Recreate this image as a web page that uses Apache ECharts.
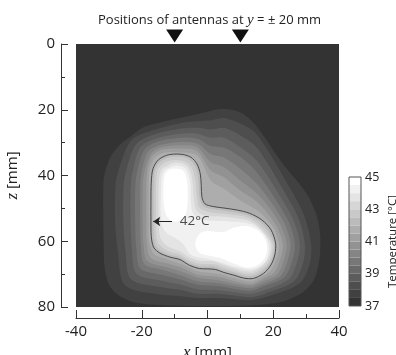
<!DOCTYPE html>
<html><head><meta charset="utf-8">
<script src="https://cdn.jsdelivr.net/npm/echarts@6/dist/echarts.min.js"></script>
<style>html,body{margin:0;padding:0;background:#fff}#c{width:396px;height:355px}</style>
</head><body><div id="c"></div>
<script>
// ---- data ----
const xTicks = [-40, -20, 0, 20, 40];
const zTicks = [0, 20, 40, 60, 80];
const tempTicks = [37, 39, 41, 43, 45];
const antennaX = [-10, 10];
const bandLower = [37, 37.5, 38, 38.5, 39, 39.5, 40, 40.5, 41, 41.5, 42, 42.5, 43, 43.5, 44, 44.5];
const isoLevels = [37.5, 38, 38.5, 39, 39.5, 40, 40.5, 41, 41.5, 42, 42.5, 43, 43.5, 44, 44.5, 44.5];
// isotherms as [x mm, z mm]
const iso37_5 = [[-15.3,24.1],[-10,22.8],[-5.2,21.8],[0,20.6],[4,19.8],[7.5,20],[11,21.4],[14.5,24.5],[17.8,29],[21,33.8],[24.5,38.5],[28.2,42.8],[31,47],[33.3,52.5],[34.3,58.5],[34.1,65],[32.5,71.5],[29,75.5],[23,78.3],[15,79.4],[5,79.7],[-5,79.7],[-15,79.4],[-22,78.6],[-26.5,76.8],[-29.8,73.5],[-31.3,68],[-31.6,60],[-31.7,52],[-31.7,44],[-31.4,40],[-29.6,34.5],[-26.5,30.5],[-23.5,28.2],[-19.5,25.3]];
const iso38 = [[-17.1,26.4],[-8,24.0],[-3,23.5],[1,23.2],[5,22.5],[10,24.2],[15,27.5],[25.5,44.5],[29.5,52.5],[31.5,60.8],[31.1,66.9],[27.9,72.9],[17,77.2],[13,77.9],[3,77.3],[-3,77.3],[-8,76.7],[-14,76.3],[-25.1,73.4],[-27.3,63],[-28.1,54],[-28.1,45],[-27.5,40],[-23.4,29.5]];
const iso38_5 = [[-16.5,27.6],[-8,25.7],[-3,25.5],[1,26.0],[5,25.5],[10,27.8],[15,31.5],[24.0,46.0],[27.8,53.3],[29.6,60.8],[29.1,66.5],[26.3,72.2],[17,76.1],[13,77.0],[3,76.0],[-3,76.0],[-8,74.8],[-14,74.0],[-23.3,71.5],[-25.0,62.5],[-25.6,54],[-25.6,45],[-25.1,40],[-21.8,30.6]];
const iso39 = [[-15.8,28.8],[-8,27.3],[-3,27.3],[1,28.5],[5,28.5],[10,31.4],[15,35.5],[22.7,47.3],[26.3,54.0],[28.1,60.8],[27.3,66.1],[24.8,71.5],[17,75.0],[13,76.0],[3,74.8],[-3,74.6],[-8,73.2],[-14,72.0],[-21.7,69.8],[-23.0,62],[-23.4,54],[-23.4,45],[-23.0,40],[-20.5,31.5]];
const iso39_5 = [[-15.3,29.7],[-8,28.5],[-3,28.8],[1,31.0],[5,31.5],[10,34.4],[15,39.0],[21.5,48.5],[24.9,54.5],[26.6,60.8],[25.8,65.8],[23.5,70.9],[17,73.8],[13,75.1],[3,73.6],[-3,73.2],[-8,71.7],[-14,70.2],[-20.4,68.3],[-21.7,61.5],[-22.0,54],[-22.0,45],[-21.6,40],[-19.3,32.3]];
const iso40 = [[-14.7,30.8],[-8,29.8],[-3,30.3],[1,33.5],[5,34.5],[10,38.0],[15,42.5],[20.4,49.6],[23.6,55.0],[25.3,60.8],[24.5,65.5],[22.4,70.4],[17,73.0],[13,74.3],[3,72.7],[-3,72.2],[-8,70.4],[-14,68.6],[-19.2,67.0],[-20.3,61],[-20.5,54],[-20.5,45],[-20.2,40],[-18.3,33.0]];
const iso40_5 = [[-14.3,31.5],[-8,30.8],[-3,31.5],[1,36.0],[5,37.5],[10,41.5],[15,45.5],[19.4,50.6],[22.4,55.4],[24.1,60.8],[23.4,65.2],[21.3,70.0],[17,72.1],[13,73.6],[3,71.8],[-3,71.1],[-8,69.2],[-12,68.0],[-18.3,66.0],[-19.5,60.5],[-19.7,54],[-19.7,45],[-19.4,40],[-17.4,33.6]];
const iso41 = [[-13.9,32.2],[-8,31.8],[-3,32.7],[1,38.5],[5,40.5],[10,44.6],[15,48.0],[18.4,51.6],[21.2,55.8],[22.9,60.8],[22.3,64.9],[20.3,69.5],[17,71.3],[13,73.0],[3,70.8],[-3,70.2],[-8,68.0],[-12,66.8],[-17.3,65.0],[-18.5,60],[-18.65,54],[-18.65,45],[-18.5,40],[-18.0,37],[-16.8,34.1]];
const iso41_5 = [[-13.4,33.1],[-8,32.9],[-3,34.0],[1,41.5],[5,44.0],[10,47.6],[15,50.5],[17.4,52.6],[20.1,56.0],[21.7,60.8],[21.2,64.7],[19.2,69.0],[17,70.5],[13,72.2],[3,69.9],[-3,69.1],[-8,66.9],[-12,65.6],[-16.3,63.9],[-17.8,59.5],[-17.9,54],[-17.9,45],[-17.8,40],[-17.3,37.2],[-16.0,34.6]];
const iso42 = [[-12.5,33.9],[-10.4,33.5],[-7.5,33.6],[-5.0,34.5],[-3.2,36.5],[-2.2,39.5],[-1.9,43],[-1.7,46.5],[-0.8,48.6],[1.5,49.4],[5,49.9],[9,50.5],[12.8,51.5],[16.5,53.5],[19.3,56.5],[20.7,60.5],[20.5,64],[19.3,67.2],[17,69.8],[14,71.3],[11,71.2],[8,70.3],[5,69.5],[2.5,68.6],[0,68.4],[-2.5,68.3],[-5.5,67.3],[-8.3,65.6],[-11.5,64.8],[-14.5,63.6],[-16.4,61.8],[-17.1,58.5],[-17.2,54],[-17.2,48],[-17.1,42],[-16.6,38],[-15,35.3]];
const iso42_5 = [[-12.5,34.8],[-10.4,34.3],[-7.5,34.4],[-5.5,35.2],[-3.9,37.0],[-3.0,39.7],[-2.7,43],[-2.4,46.9],[-1.2,49.4],[1.4,50.2],[5,50.7],[8.9,51.3],[12.5,52.2],[15.9,54.1],[18.5,57],[20.2,60.6],[20.0,64],[18.7,66.9],[16.5,69.1],[13.9,70.5],[11.1,70.4],[8.2,69.5],[5,68.7],[2.5,67.8],[0,67.6],[-2.6,67.5],[-5.8,66.5],[-8.5,64.8],[-11.6,64.0],[-14.1,62.9],[-15.7,61.4],[-16.3,58.4],[-16.4,54],[-16.4,48],[-16.3,42],[-15.9,38.3],[-14.5,36]];
const iso43 = [[-12.5,35.9],[-10.4,35.3],[-7.5,35.5],[-5.7,36.5],[-4.4,38.5],[-3.6,42],[-3.3,46],[-2.4,49.8],[0,51.0],[5,51.6],[9,52.1],[12.5,52.9],[15.3,54.7],[17.8,57.4],[19.7,60.6],[19.6,63.8],[18.4,66.6],[16.2,68.5],[13.8,69.8],[11.1,69.7],[8.2,68.9],[5,68.0],[2.5,67.1],[0,66.9],[-2.6,66.8],[-5.8,65.7],[-8.5,64.0],[-11.5,63.1],[-13.6,62.0],[-15.0,60.6],[-15.6,58],[-15.7,54],[-15.7,48],[-15.6,42],[-15.2,38.6],[-14,36.8]];
const iso43_5 = [[-12.2,37.0],[-10.4,36.1],[-7.7,36.3],[-6,37.4],[-5,39.5],[-4.5,42.5],[-4.2,46.5],[-3.4,50.5],[-1,52.1],[4,52.5],[9,53.0],[12.5,53.7],[15,55.2],[17.3,57.8],[19.2,60.6],[19.1,63.6],[17.9,66.2],[15.8,68.0],[13.6,69.1],[11.1,69.0],[8.2,68.2],[5,67.2],[2.5,66.3],[0,66.0],[-2.6,65.9],[-5.8,64.8],[-8.5,63.0],[-11.2,62.0],[-13,60.8],[-14.3,59],[-14.8,56],[-14.9,50],[-14.9,44],[-14.6,40],[-13.7,37.8]];
const iso44 = [[-12,37.8],[-10.2,37.0],[-8,37.2],[-6.4,38.2],[-5.6,40.3],[-5.2,43],[-5.1,47],[-4.6,51],[-2.5,53.3],[2,53.8],[7,54.0],[11,54.3],[13.5,54.9],[16,56.5],[18,59],[18.7,62],[18.3,65],[16.8,67.0],[14.8,68.2],[12.5,68.5],[9.5,68.0],[6.5,67.2],[3.5,66.2],[0,65.4],[-3,64.9],[-5.5,63.8],[-7.3,61],[-9.5,59.2],[-12,57.8],[-13.6,56],[-14.2,52],[-14.2,46],[-14.0,41],[-13.3,38.6]];
const iso44_5a = [[-9.8,37.9],[-7.4,38.5],[-6.3,41],[-6.0,45],[-6.1,49],[-6.8,52.2],[-8.6,53.8],[-10.8,53.8],[-12.6,52],[-13.4,48],[-13.4,43],[-13.0,39.8],[-11.8,38.3]];
const iso44_5b = [[-3.7,60.5],[-2.5,57.8],[0,56.8],[3,57.2],[5.5,57.0],[8,55.8],[12,55.4],[15.5,56.8],[17.6,59.5],[18.2,62.5],[17.2,65.5],[14.8,67.5],[11.5,68.0],[8,66.8],[4.5,65.3],[1,64.5],[-2,63.8],[-3.3,62.5]];
const isoPaths = [iso37_5, iso38, iso38_5, iso39, iso39_5, iso40, iso40_5, iso41, iso41_5, iso42, iso42_5, iso43, iso43_5, iso44, iso44_5a, iso44_5b];
const label42 = '42°C';
const label42At = [-8.6, 54];
const arrowTail = [-10.8, 54];
const arrowHead = [-16.5, 54];

// ---- styling helpers ----
const FONT = 'Open Sans';
const INK = '#222';
function bandGray(i) { const g = Math.round(51 + i * 204 / 15); return 'rgb(' + g + ',' + g + ',' + g + ')'; }
function levelGray(level) { return bandGray(Math.round((level - 37) / 0.5)); }

const chart = echarts.init(document.getElementById('c'));
const axisLineStyle = { color: '#333', width: 1 };
chart.setOption({
  animation: false,
  backgroundColor: '#fff',
  title: {
    text: '{a|Positions of antennas at }{i|y}{a| = ± 20 mm}',
    left: 93, top: 8,
    textStyle: { fontWeight: 'normal', rich: {
      a: { fontFamily: FONT, fontSize: 13, fontWeight: 'normal', color: INK },
      i: { fontFamily: 'Liberation Serif', fontStyle: 'italic', fontWeight: 'normal', fontSize: 15, color: INK }
    } }
  },
  grid: [
    { left: 76, top: 44, width: 263, height: 263, show: true, backgroundColor: bandGray(0), borderWidth: 0,
      containLabel: false, outerBoundsMode: 'none' },
    { left: 349, top: 177, width: 12, height: 129, show: true, backgroundColor: 'transparent', borderColor: '#555', borderWidth: 1, z: 5,
      containLabel: false, outerBoundsMode: 'none' }
  ],
  xAxis: [
    { type: 'value', gridIndex: 0, min: xTicks[0], max: xTicks[xTicks.length - 1], interval: xTicks[1] - xTicks[0],
      position: 'bottom', offset: 11,
      axisLine: { show: true, onZero: false, lineStyle: axisLineStyle },
      axisTick: { show: true, inside: true, length: 8, lineStyle: axisLineStyle },
      minorTick: { show: true, splitNumber: 2, length: 4, lineStyle: axisLineStyle },
      splitLine: { show: false },
      axisLabel: { margin: 6, fontFamily: FONT, fontSize: 15, color: INK },
      name: '{v|x} [mm]', nameLocation: 'middle', nameGap: 22,
      nameTextStyle: { fontFamily: FONT, fontSize: 15, color: INK,
        rich: { v: { fontFamily: 'Liberation Serif', fontStyle: 'italic', fontSize: 17, color: INK } } }
    },
    { type: 'value', gridIndex: 1, min: 0, max: 1, show: false }
  ],
  yAxis: [
    { type: 'value', gridIndex: 0, inverse: true, min: zTicks[0], max: zTicks[zTicks.length - 1], interval: zTicks[1] - zTicks[0],
      position: 'left', offset: 15,
      axisLine: { show: true, onZero: false, lineStyle: axisLineStyle },
      axisTick: { show: true, inside: true, length: 7, lineStyle: axisLineStyle },
      minorTick: { show: true, splitNumber: 2, length: 4, lineStyle: axisLineStyle },
      splitLine: { show: false },
      axisLabel: { margin: 6, fontFamily: FONT, fontSize: 15, color: INK },
      name: '{v|z} [mm]', nameLocation: 'middle', nameGap: 40, nameRotate: 90,
      nameTextStyle: { fontFamily: FONT, fontSize: 15, color: INK,
        rich: { v: { fontFamily: 'Liberation Serif', fontStyle: 'italic', fontSize: 17, color: INK } } }
    },
    { type: 'value', gridIndex: 1, min: tempTicks[0], max: tempTicks[tempTicks.length - 1], interval: tempTicks[1] - tempTicks[0],
      position: 'right',
      axisLine: { show: false, onZero: false }, axisTick: { show: false }, splitLine: { show: false },
      axisLabel: { margin: 4, fontFamily: FONT, fontSize: 12.5, color: INK },
      name: 'Temperature [°C]', nameLocation: 'middle', nameRotate: 90, nameGap: 26,
      nameTextStyle: { fontFamily: FONT, fontSize: 11.5, color: INK }
    }
  ],
  series: [
    { type: 'custom', name: 'temperature', xAxisIndex: 0, yAxisIndex: 0, clip: true, silent: true,
      data: isoPaths.map((p, i) => [p[0][0], p[0][1], isoLevels[i]]),
      renderItem: function (params, api) {
        const i = params.dataIndex;
        const pts = isoPaths[i].map(p => api.coord(p));
        const lvl = isoLevels[i];
        const isLine = lvl === 42;
        return { type: 'polygon', shape: { points: pts, smooth: 0.3 },
          style: { fill: levelGray(lvl), stroke: isLine ? '#4a4a4a' : null, lineWidth: isLine ? 1 : 0 } };
      }
    },
    { type: 'scatter', name: 'antennas', xAxisIndex: 0, yAxisIndex: 0, clip: false, silent: true,
      symbol: 'path://M0,0L2,0L1,1.5Z', symbolSize: [17, 13], symbolOffset: [0, -8],
      itemStyle: { color: '#111', opacity: 1 },
      data: antennaX.map(x => [x, zTicks[0]])
    },
    { type: 'scatter', name: 'label42', xAxisIndex: 0, yAxisIndex: 0, silent: true,
      symbolSize: 1, itemStyle: { color: 'rgba(0,0,0,0)' },
      data: [label42At],
      label: { show: true, position: 'right', distance: 0, formatter: label42, fontFamily: FONT, fontSize: 13.5, color: INK },
      markLine: { silent: true, symbol: ['none', 'arrow'], symbolSize: 7, label: { show: false },
        lineStyle: { color: INK, width: 1, type: 'solid', opacity: 1 },
        data: [[{ coord: arrowTail }, { coord: arrowHead }]] }
    },
    { type: 'custom', name: 'colorbar', xAxisIndex: 1, yAxisIndex: 1, silent: true,
      data: bandLower.map(v => [0.5, v]),
      renderItem: function (params, api) {
        const lo = api.value(1);
        const p0 = api.coord([0, lo]);
        const p1 = api.coord([1, lo + 0.5]);
        return { type: 'rect', shape: { x: p0[0], y: p1[1], width: p1[0] - p0[0], height: p0[1] - p1[1] },
          style: { fill: bandGray(params.dataIndex) } };
      }
    }
  ]
});
</script>
</body></html>
